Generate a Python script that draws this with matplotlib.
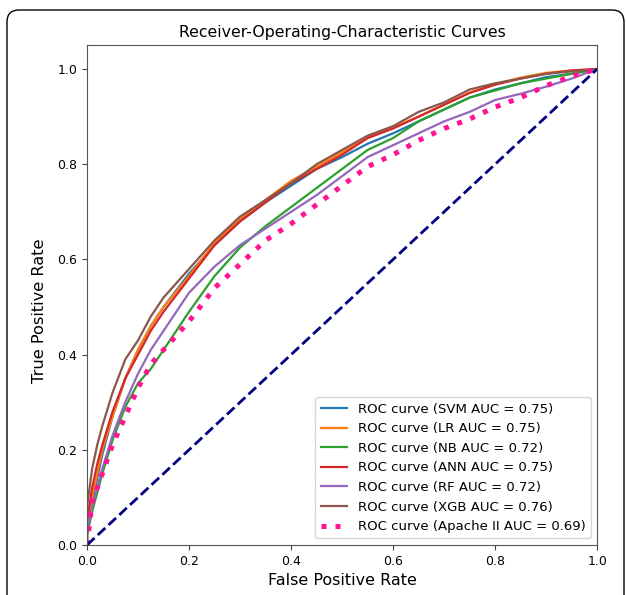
import matplotlib
matplotlib.use("Agg")
import matplotlib.pyplot as plt
from matplotlib.patches import FancyBboxPatch

# false positive rate grid shared by all curves
fpr = [0.0, 0.0, 0.01, 0.02, 0.03, 0.05, 0.075, 0.1, 0.125, 0.15, 0.2, 0.25, 0.3, 0.35,
       0.4, 0.45, 0.5, 0.55, 0.6, 0.65, 0.7, 0.75, 0.8, 0.85, 0.9, 0.95, 1.0]

tpr_svm = [0.0, 0.03, 0.09, 0.14, 0.19, 0.27, 0.35, 0.41, 0.46, 0.50, 0.57, 0.63, 0.68, 0.72,
           0.755, 0.79, 0.815, 0.843, 0.865, 0.89, 0.915, 0.94, 0.957, 0.97, 0.983, 0.99, 1.0]
tpr_lr = [0.0, 0.04, 0.10, 0.15, 0.20, 0.27, 0.35, 0.41, 0.46, 0.50, 0.565, 0.635, 0.685, 0.725,
          0.765, 0.795, 0.825, 0.855, 0.877, 0.90, 0.925, 0.95, 0.968, 0.982, 0.992, 0.997, 1.0]
tpr_nb = [0.0, 0.02, 0.07, 0.11, 0.15, 0.22, 0.29, 0.34, 0.37, 0.41, 0.49, 0.565, 0.625, 0.67,
          0.71, 0.75, 0.79, 0.83, 0.855, 0.89, 0.915, 0.94, 0.955, 0.97, 0.98, 0.99, 1.0]
tpr_ann = [0.0, 0.05, 0.12, 0.17, 0.21, 0.28, 0.35, 0.40, 0.45, 0.49, 0.56, 0.63, 0.68, 0.72,
           0.76, 0.79, 0.82, 0.855, 0.875, 0.90, 0.925, 0.95, 0.967, 0.98, 0.99, 0.997, 1.0]
tpr_rf = [0.0, 0.03, 0.08, 0.12, 0.16, 0.23, 0.30, 0.36, 0.41, 0.45, 0.53, 0.585, 0.63, 0.665,
          0.70, 0.735, 0.775, 0.815, 0.84, 0.865, 0.89, 0.91, 0.935, 0.948, 0.963, 0.98, 1.0]
tpr_xgb = [0.0, 0.08, 0.16, 0.21, 0.25, 0.32, 0.39, 0.43, 0.48, 0.52, 0.58, 0.64, 0.69, 0.725,
           0.76, 0.80, 0.83, 0.86, 0.88, 0.91, 0.93, 0.957, 0.97, 0.98, 0.99, 0.995, 1.0]
tpr_apache = [0.0, 0.0, 0.09, 0.12, 0.15, 0.21, 0.27, 0.33, 0.38, 0.41, 0.47, 0.54, 0.59, 0.64,
              0.675, 0.715, 0.755, 0.795, 0.82, 0.85, 0.875, 0.895, 0.92, 0.94, 0.965, 0.985, 1.0]

labels = ["ROC curve (SVM AUC = 0.75)", "ROC curve (LR AUC = 0.75)", "ROC curve (NB AUC = 0.72)",
          "ROC curve (ANN AUC = 0.75)", "ROC curve (RF AUC = 0.72)", "ROC curve (XGB AUC = 0.76)",
          "ROC curve (Apache II AUC = 0.69)"]
colors = ["#1f77b4", "#ff7f0e", "#2ca02c", "#d62728", "#9467bd", "#8c564b"]

fig = plt.figure(figsize=(6.26, 5.95), dpi=100)
ax = fig.add_axes([0.139, 0.084, 0.815, 0.840])

for tpr, lab, c in zip([tpr_svm, tpr_lr, tpr_nb, tpr_ann, tpr_rf, tpr_xgb], labels[:6], colors):
    ax.plot(fpr, tpr, color=c, lw=1.6, label=lab)
ax.plot(fpr, tpr_apache, color="deeppink", lw=3.6, linestyle=(0, (1, 1.8)), label=labels[6])
ax.plot([0, 1], [0, 1], color="navy", lw=2, linestyle="--")

ax.set_xlim(0, 1)
ax.set_ylim(0, 1.05)
ax.set_xticks([0, 0.2, 0.4, 0.6, 0.8, 1.0])
ax.set_yticks([0, 0.2, 0.4, 0.6, 0.8, 1.0])
ax.tick_params(labelsize=9, color="#444444")
for s in ax.spines.values():
    s.set_color("#555555")
ax.set_xlabel("False Positive Rate", fontsize=11.5, labelpad=4)
ax.set_ylabel("True Positive Rate", fontsize=11.7)
ax.yaxis.set_label_coords(-0.078, 0.469)
ax.set_title("Receiver-Operating-Characteristic Curves", fontsize=11.3, pad=6)
ax.legend(loc="lower right", fontsize=9.5)

# rounded frame around the figure
frame = FancyBboxPatch((0.07, -0.3), 6.17, 6.15, boxstyle="round,pad=0,rounding_size=0.12",
                       transform=fig.dpi_scale_trans, fill=False, edgecolor="black", lw=1.0)
fig.patches.append(frame)

fig.savefig("out.png", dpi=100)
